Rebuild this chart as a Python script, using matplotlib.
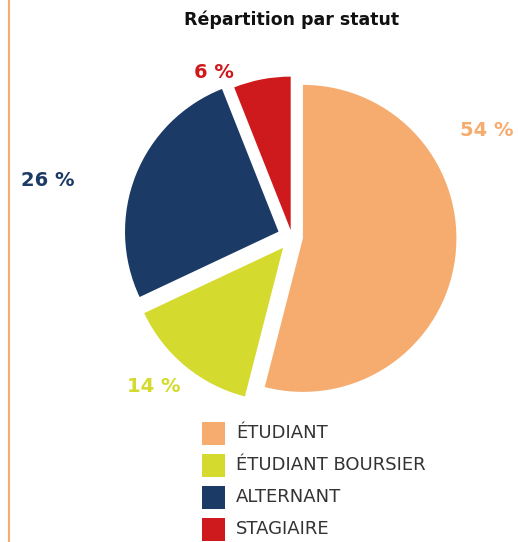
import matplotlib
matplotlib.use("Agg")
import matplotlib.pyplot as plt
from matplotlib.patches import Rectangle
from matplotlib.lines import Line2D

title = "Répartition par statut"
categories = ["ÉTUDIANT", "ÉTUDIANT BOURSIER", "ALTERNANT", "STAGIAIRE"]
values = [54, 14, 26, 6]
colors = ["#F5AC6E", "#D4DB2E", "#1B3A66", "#CF1A1D"]
pct_labels = ["54 %", "14 %", "26 %", "6 %"]

W, H = 518, 542
fig = plt.figure(figsize=(W / 100, H / 100), dpi=100)
ax = fig.add_axes([0, 0, 1, 1])

cx, cy, r = 292, H - 237, 153.5
wedges, _ = ax.pie(values, colors=colors, startangle=90, counterclock=False,
                   center=(cx, cy), radius=r, explode=[11, 14, 14.5, 7],
                   wedgeprops=dict(linewidth=0), frame=True)
ax.set_xlim(0, W)
ax.set_ylim(0, H)
ax.set_aspect("equal")
ax.axis("off")

fam = ["DejaVu Sans"]
label_pos = [(487, 130), (154, 386), (48, 180), (214, 72)]
for (x, y), t, c in zip(label_pos, pct_labels, colors):
    ax.text(x, H - y, t, color=c, fontsize=14, fontweight="bold",
            family=fam, ha="center", va="center")

ax.text(292, H - 20, title, fontsize=12.5, fontweight="bold", family=fam,
        ha="center", va="center", color="#111111")

# legend
ly0 = 433.5
for i, (cat, c) in enumerate(zip(categories, colors)):
    yc = ly0 + i * 32
    ax.add_patch(Rectangle((202, H - yc - 11.5), 23, 23, facecolor=c, edgecolor="none"))
    ax.text(236, H - yc, cat, fontsize=13, family=fam, color="#333333",
            ha="left", va="center")

fig.add_artist(Line2D([9 / W, 9 / W], [0, 1], transform=fig.transFigure,
                      color="#F5AC6E", linewidth=1.5))

fig.savefig("out.png", dpi=100)
